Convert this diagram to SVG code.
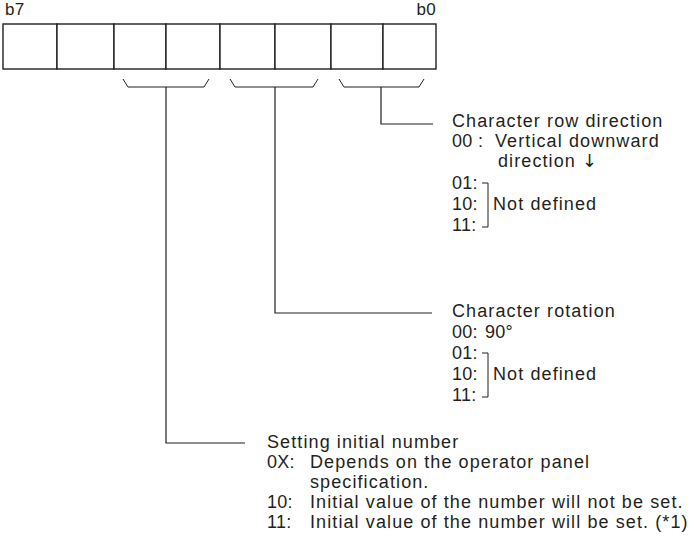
<svg xmlns="http://www.w3.org/2000/svg" width="694" height="544" viewBox="0 0 694 544">
<style>
  .cell{fill:#fff;stroke:#231f20;stroke-width:1.4}
  .ln{fill:none;stroke:#231f20;stroke-width:1.2}
  .br{fill:none;stroke:#231f20;stroke-width:1}
  text{font-family:"Liberation Sans",Arial,sans-serif;font-size:18px;fill:#231f20;letter-spacing:1.1px}
  .num{letter-spacing:0.3px}
  .bit{font-size:17px;letter-spacing:0.3px}
  .arr{font-family:"DejaVu Sans",sans-serif;letter-spacing:0}
</style>
<rect width="694" height="544" fill="#fff"/>
<g id="register">
  <text class="bit" x="5" y="15">b7</text>
  <text class="bit" x="436" y="15" text-anchor="end">b0</text>
  <rect class="cell" x="3" y="24" width="54" height="45"/>
  <rect class="cell" x="57" y="24" width="57" height="45"/>
  <rect class="cell" x="114" y="24" width="52" height="45"/>
  <rect class="cell" x="166" y="24" width="54" height="45"/>
  <rect class="cell" x="220" y="24" width="55" height="45"/>
  <rect class="cell" x="275" y="24" width="56" height="45"/>
  <rect class="cell" x="331" y="24" width="52" height="45"/>
  <rect class="cell" x="383" y="24" width="53" height="45"/>
</g>
<g id="braces">
  <polyline class="br" points="123,79 128,87 204,87 209,79"/>
  <polyline class="br" points="230,79 235,87 313,87 318,79"/>
  <polyline class="br" points="339,79 344,87 419,87 424,79"/>
</g>
<g id="connectors">
  <polyline class="ln" points="381,87 381,124 433,124"/>
  <polyline class="ln" points="275,87 275,313 432,313"/>
  <polyline class="ln" points="166,87 166,443 245,443"/>
</g>
<g id="row-direction">
  <text x="452" y="127">Character row direction</text>
  <text class="num" x="452" y="147">00 :</text>
  <text x="495" y="147">Vertical downward</text>
  <text x="498" y="167">direction <tspan class="arr">↓</tspan></text>
  <text class="num" x="452" y="189">01:</text>
  <text class="num" x="452" y="210">10:</text>
  <text class="num" x="452" y="231">11:</text>
  <polyline class="br" points="482,183 488,183 488,227 482,227"/>
  <text x="493" y="210">Not defined</text>
</g>
<g id="rotation">
  <text x="452" y="317">Character rotation</text>
  <text class="num" x="452" y="338">00:</text>
  <text class="num" x="485" y="338">90°</text>
  <text class="num" x="452" y="359">01:</text>
  <text class="num" x="452" y="380">10:</text>
  <text class="num" x="452" y="401">11:</text>
  <polyline class="br" points="482,353 488,353 488,397 482,397"/>
  <text x="493" y="380">Not defined</text>
</g>
<g id="initial-number">
  <text x="267" y="448">Setting initial number</text>
  <text class="num" x="267" y="468">0X:</text>
  <text x="310" y="468">Depends on the operator panel</text>
  <text x="310" y="488">specification.</text>
  <text class="num" x="267" y="508">10:</text>
  <text x="310" y="508">Initial value of the number will not be set.</text>
  <text class="num" x="267" y="528">11:</text>
  <text x="310" y="528">Initial value of the number will be set. (*1)</text>
</g>
</svg>
